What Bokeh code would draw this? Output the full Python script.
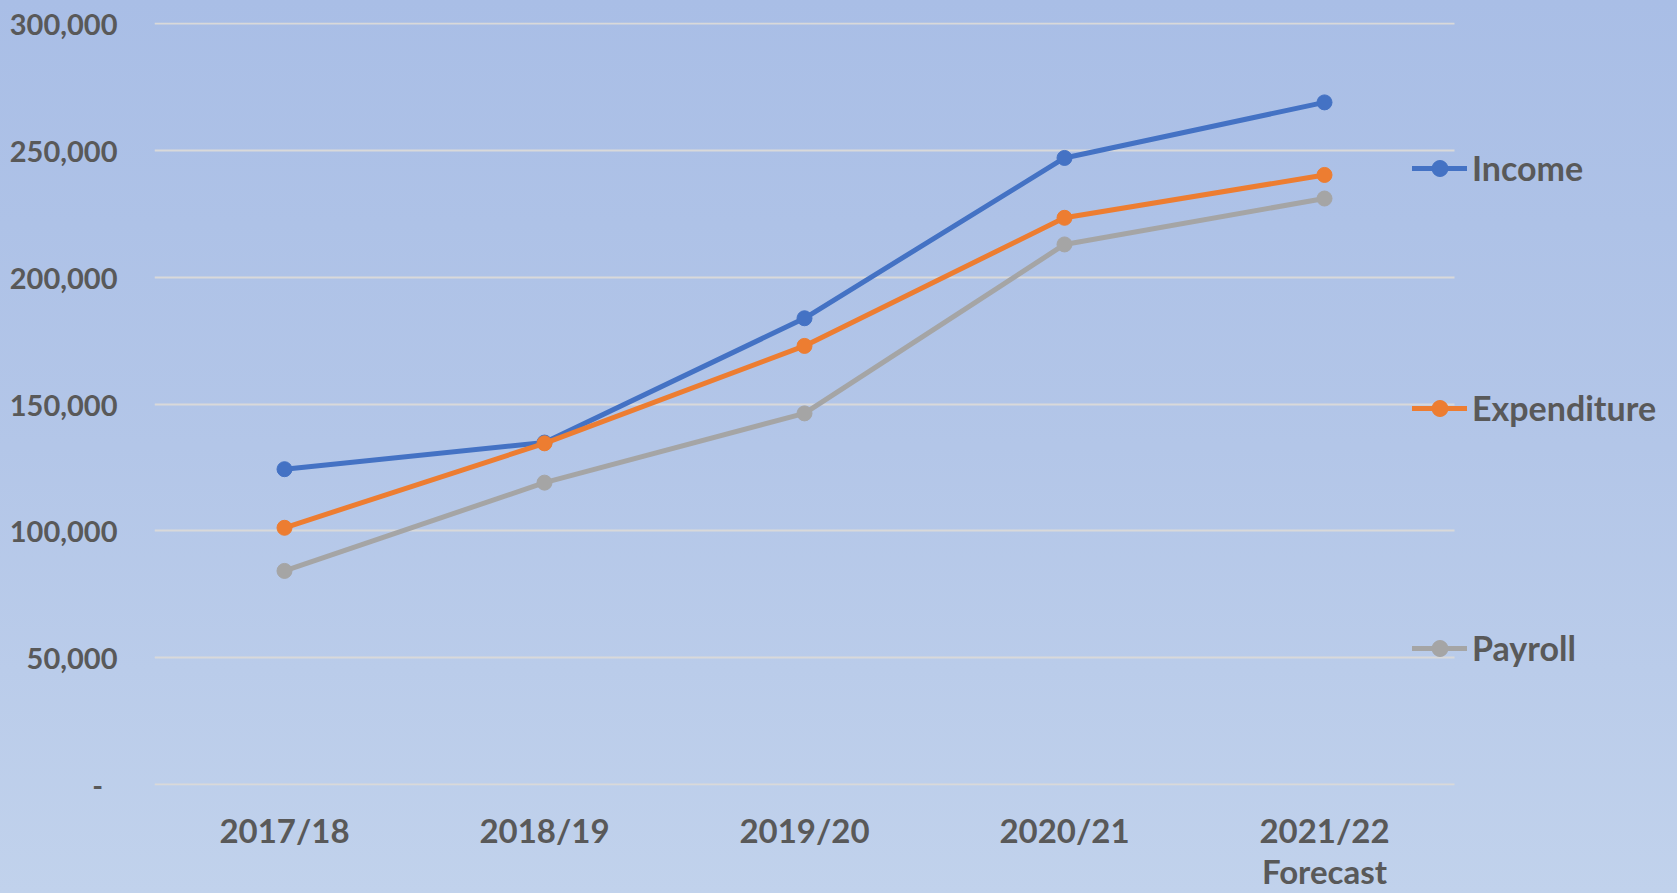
from bokeh.plotting import figure
from bokeh.models import Range1d, FixedTicker, NumeralTickFormatter, Legend, LegendItem, ColumnDataSource
from bokeh.embed import file_html
from bokeh.resources import INLINE

categories = ["2017/18", "2018/19", "2019/20", "2020/21", "2021/22"]
category_labels = ["2017/18", "2018/19", "2019/20", "2020/21", "2021/22\nForecast"]
income = [124300, 134800, 183800, 247000, 268900]
expenditure = [101200, 134500, 172900, 223400, 240300]
payroll = [84200, 119000, 146300, 212900, 231000]
y_ticks = [0, 50000, 100000, 150000, 200000, 250000, 300000]

series = [
    ("Income", income, "#4472C4"),
    ("Expenditure", expenditure, "#ED7D31"),
    ("Payroll", payroll, "#A5A5A5"),
]

TEXT = "#595959"
FONT = "Lato"

positions = list(range(len(categories)))
n = len(categories)

W, H = 1677, 893
LEFT, TOP, FRAME_H = 154, 22, 763
unit = 1300 / n  # pixels per category slot
pad = 300000 / 761  # one pixel of headroom so the end grid lines show

p = figure(
    x_range=Range1d(-0.5, -0.5 + (W - LEFT) / unit),
    y_range=Range1d(-pad, 300000 + pad),
    width=W, height=H,
    min_border_left=LEFT, min_border_right=0, min_border_top=TOP, min_border_bottom=H - TOP - FRAME_H,
    output_backend="svg", toolbar_location=None,
    styles={"background": "linear-gradient(to bottom, #A9BEE6 0%, #B3C6E8 50%, #C1D2EC 100%)"},
)
p.background_fill_alpha = 0
p.border_fill_alpha = 0
p.outline_line_color = None

p.xgrid.grid_line_color = None
p.ygrid.grid_line_color = "#D9D9D9"
p.ygrid.grid_line_width = 2
if hasattr(p.ygrid[0], "cross_bounds"):
    p.ygrid.cross_bounds = (-0.5, n - 0.5)

p.yaxis.ticker = FixedTicker(ticks=y_ticks)
p.yaxis.formatter = NumeralTickFormatter(format="0,0")
p.yaxis.major_label_overrides = {0: "-\u2002"}
p.xaxis.ticker = FixedTicker(ticks=positions)
p.xaxis.major_label_overrides = {i: lab for i, lab in zip(positions, category_labels)}
for ax in (p.xaxis[0], p.yaxis[0]):
    ax.axis_line_color = None
    ax.major_tick_line_color = None
    ax.minor_tick_line_color = None
    ax.major_tick_out = 0
    ax.major_tick_in = 0
    ax.major_label_text_color = TEXT
    ax.major_label_text_font = FONT
    ax.major_label_text_font_style = "bold"
p.yaxis.major_label_text_font_size = "29px"
p.yaxis.major_label_standoff = 37
p.xaxis.major_label_text_font_size = "33px"
p.xaxis.major_label_standoff = 24
p.xaxis.major_label_text_line_height = 1.03

items = []
for name, vals, color in series:
    src = ColumnDataSource(dict(x=positions, y=vals, cat=categories))
    r1 = p.line("x", "y", source=src, line_color=color, line_width=5, line_cap="round", line_join="round")
    r2 = p.scatter("x", "y", source=src, size=15, fill_color=color, line_color=color)
    items.append(LegendItem(label=name, renderers=[r1, r2]))

legend = Legend(
    items=items, location=(1258, 117),
    glyph_width=55, glyph_height=40, label_height=40, label_standoff=5, spacing=199,
    padding=0, margin=0, border_line_color=None, background_fill_alpha=0,
    label_text_font=FONT, label_text_font_style="bold", label_text_font_size="34px",
    label_text_color=TEXT,
)
p.add_layout(legend, "center")

open("out.html", "w").write(file_html(p, INLINE))
